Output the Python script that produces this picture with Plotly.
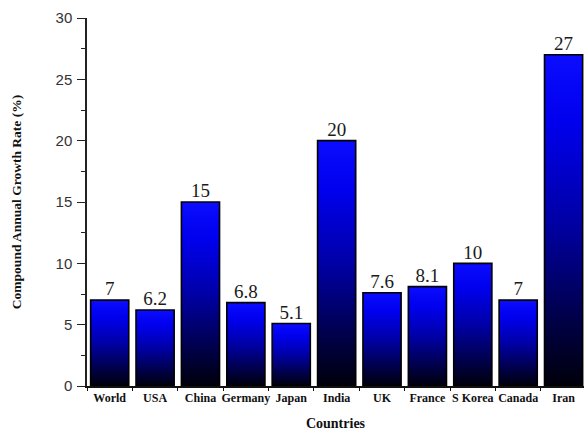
import plotly.graph_objects as go

# Compound annual growth rate by country (%)
countries = ["World", "USA", "China", "Germany", "Japan", "India",
             "UK", "France", "S Korea", "Canada", "Iran"]
growth = [7, 6.2, 15, 6.8, 5.1, 20, 7.6, 8.1, 10, 7, 27]
value_labels = ["7", "6.2", "15", "6.8", "5.1", "20", "7.6", "8.1", "10", "7", "27"]
y_ticks = [0, 5, 10, 15, 20, 25, 30]

BAR_WIDTH = 0.84
SERIF = "Liberation Serif"
SANS = "Liberation Sans"

fig = go.Figure()

# Each bar is its own filled rectangle so the vertical gradient runs
# from black at the base to blue at the top of that bar.
for i, v in enumerate(growth):
    x0, x1 = i - BAR_WIDTH / 2, i + BAR_WIDTH / 2
    fig.add_trace(go.Scatter(
        x=[x0, x0, x1, x1, x0],
        y=[0, v, v, 0, 0],
        mode="lines",
        fill="toself",
        fillgradient=dict(
            type="vertical",
            colorscale=[[0, "#00000a"], [0.5, "#0000a6"],
                        [0.8, "#0000ee"], [1, "#0c0cff"]],
        ),
        line=dict(color="#000000", width=1.6),
        hoverinfo="skip",
        showlegend=False,
    ))

# Value labels above the bars
fig.add_trace(go.Scatter(
    x=list(range(len(growth))),
    y=growth,
    mode="text",
    text=value_labels,
    textposition="top center",
    textfont=dict(family=SERIF, size=19, color="#1a1a1a"),
    hoverinfo="skip",
    showlegend=False,
))

fig.update_layout(
    width=584,
    height=432,
    margin=dict(l=87, r=0, t=18, b=46),
    paper_bgcolor="white",
    plot_bgcolor="white",
    xaxis=dict(
        range=[-0.5, 10.45],
        tickmode="array",
        tickvals=list(range(len(countries))),
        ticktext=countries,
        ticks="",
        tickfont=dict(family=SERIF, size=12, color="#111111", weight="bold"),
        showgrid=False,
        zeroline=False,
        showline=True,
        linecolor="#111111",
        linewidth=1.5,
        minor=dict(tick0=0.5, dtick=1, ticks="outside", ticklen=3,
                   tickcolor="#111111", tickwidth=1.2),
        title=dict(text="Countries", standoff=14,
                   font=dict(family=SERIF, size=14, color="#111111", weight="bold")),
        fixedrange=True,
    ),
    yaxis=dict(
        range=[0, 30],
        tickmode="array",
        tickvals=y_ticks,
        ticks="outside",
        ticklen=8,
        tickwidth=1.3,
        tickcolor="#222222",
        ticklabelstandoff=2,
        tickfont=dict(family=SANS, size=15, color="#333333"),
        showgrid=False,
        zeroline=False,
        showline=True,
        linecolor="#222222",
        linewidth=1.5,
        minor=dict(dtick=2.5, tick0=0, ticks="outside", ticklen=4,
                   tickcolor="#222222", tickwidth=1.2),
        title=dict(text="Compound Annual Growth Rate (%)", standoff=31,
                   font=dict(family=SERIF, size=13.5, color="#111111", weight="bold")),
        fixedrange=True,
    ),
)

fig.write_html("out.html")
